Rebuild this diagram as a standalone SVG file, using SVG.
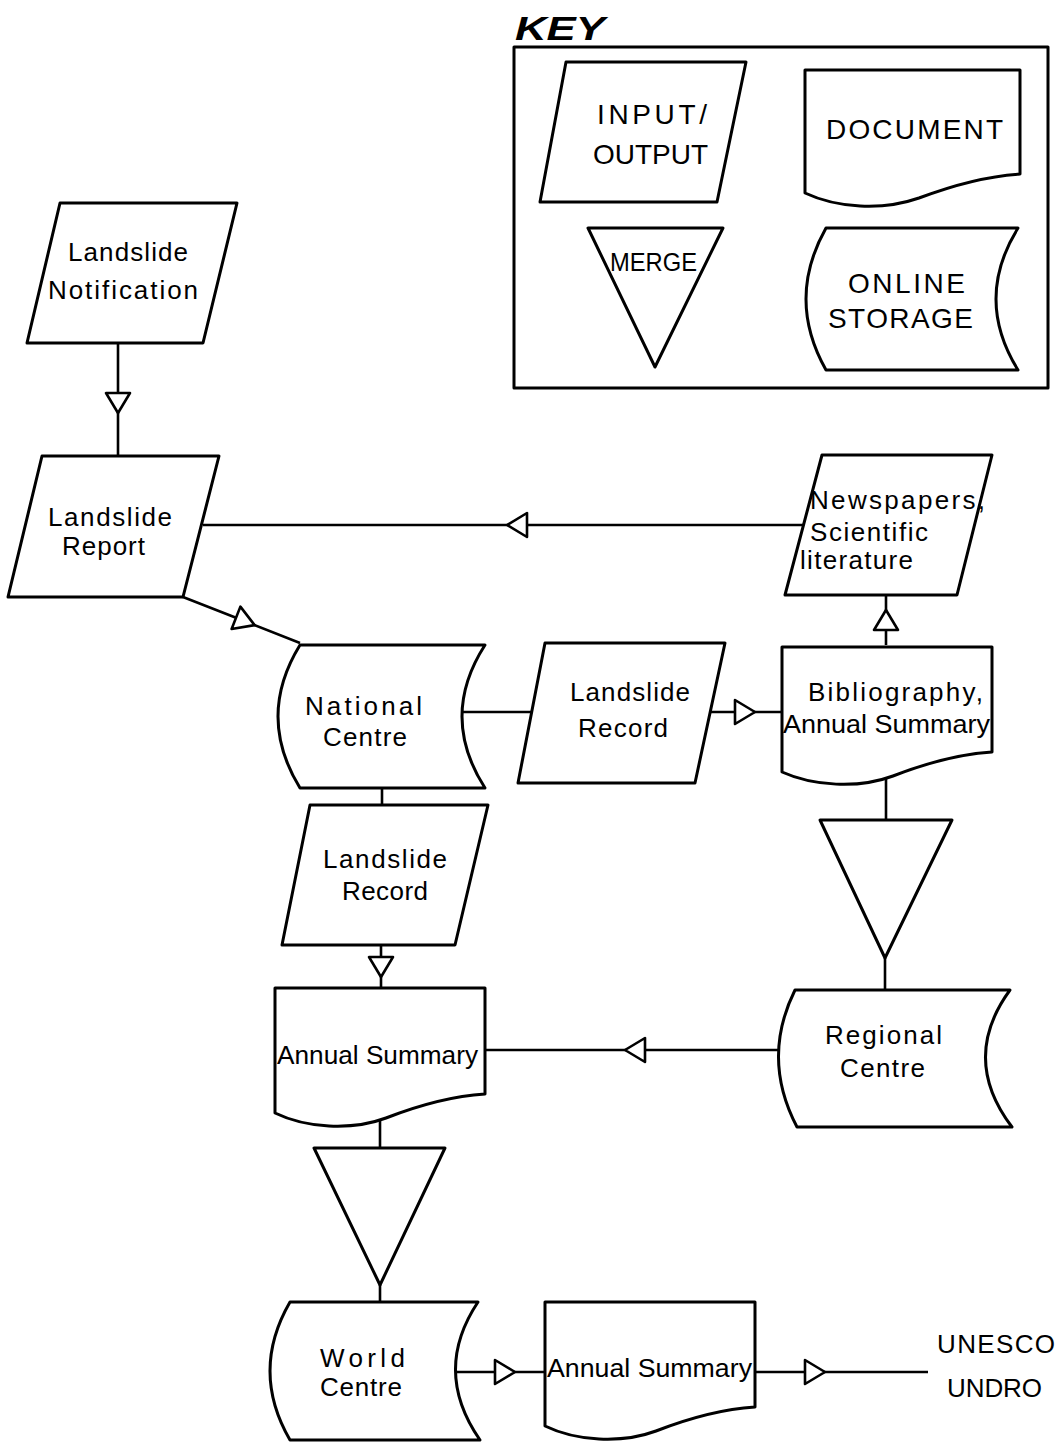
<svg xmlns="http://www.w3.org/2000/svg" width="1063" height="1447" viewBox="0 0 1063 1447">
<style>
.s{fill:#fff;stroke:#000;stroke-width:3;stroke-linejoin:round}
.c{fill:none;stroke:#000;stroke-width:2.6}
text{font-family:"Liberation Sans","DejaVu Sans",sans-serif;font-size:26px;fill:#000}
.k{font-size:28px}
</style>
<defs>
<marker id="ah" markerUnits="userSpaceOnUse" markerWidth="28" markerHeight="30" viewBox="0 0 28 30" refX="2" refY="15" orient="auto" overflow="visible">
<path d="M2,3 L22,15 L2,27 Z" fill="#fff" stroke="#000" stroke-width="2.6" stroke-linejoin="round"/>
</marker>
</defs>
<rect width="1063" height="1447" fill="#fff"/>

<g id="key">
<text x="515" y="40" style="font-size:33px;font-weight:bold;font-style:italic" textLength="90" lengthAdjust="spacingAndGlyphs">KEY</text>
<rect x="514" y="47" width="534" height="341" class="s"/>
<polygon class="s" points="566,62 746,62 717,202 540,202"/>
<text class="k" x="597" y="124" textLength="110" lengthAdjust="spacing">INPUT/</text>
<text class="k" x="593" y="164" textLength="115" lengthAdjust="spacing">OUTPUT</text>
<path class="s" d="M805,70 H1020 V174 C988,176 956,184 919,198 C882,211 837,208 805,193 Z"/>
<text class="k" x="826" y="139" textLength="177" lengthAdjust="spacing">DOCUMENT</text>
<polygon class="s" points="588,228 723,228 655,367"/>
<text x="610" y="271" textLength="87" lengthAdjust="spacingAndGlyphs">MERGE</text>
<path class="s" d="M826,228 H1018 Q974,299 1018,370 H826 Q786,299 826,228 Z"/>
<text class="k" x="848" y="293" textLength="117" lengthAdjust="spacing">ONLINE</text>
<text class="k" x="828" y="328" textLength="145" lengthAdjust="spacing">STORAGE</text>
</g>

<g id="connectors">
<polyline class="c" points="118,343 118,393 118,456" marker-mid="url(#ah)"/>
<polyline class="c" points="805,525 527,525 203,525" marker-mid="url(#ah)"/>
<polyline class="c" points="183,597 236,617.8 300,643" marker-mid="url(#ah)"/>
<polyline class="c" points="886,645 886,630 886,595" marker-mid="url(#ah)"/>
<line class="c" x1="462" y1="712" x2="532" y2="712"/>
<polyline class="c" points="710,712 735,712 782,712" marker-mid="url(#ah)"/>
<line class="c" x1="382" y1="788" x2="382" y2="805"/>
<polyline class="c" points="381,945 381,957 381,988" marker-mid="url(#ah)"/>
<line class="c" x1="886" y1="778" x2="886" y2="820"/>
<line class="c" x1="885" y1="958" x2="885" y2="990"/>
<polyline class="c" points="778,1050 645,1050 485,1050" marker-mid="url(#ah)"/>
<line class="c" x1="380" y1="1120" x2="380" y2="1148"/>
<line class="c" x1="380" y1="1285" x2="380" y2="1302"/>
<polyline class="c" points="455,1372 495,1372 545,1372" marker-mid="url(#ah)"/>
<polyline class="c" points="755,1372 805,1372 928,1372" marker-mid="url(#ah)"/>
</g>

<g id="notification">
<polygon class="s" points="60,203 237,203 203,343 27,343"/>
<text x="68" y="261" textLength="120" lengthAdjust="spacing">Landslide</text>
<text x="48" y="299" textLength="150" lengthAdjust="spacing">Notification</text>
</g>

<g id="report">
<polygon class="s" points="42,456 219,456 183,597 8,597"/>
<text x="48" y="526" textLength="124" lengthAdjust="spacing">Landslide</text>
<text x="62" y="555" textLength="83" lengthAdjust="spacing">Report</text>
</g>

<g id="newspapers">
<polygon class="s" points="822,455 992,455 957,595 785,595"/>
<text x="810" y="509" textLength="175" lengthAdjust="spacing">Newspapers,</text>
<text x="810" y="541" textLength="118" lengthAdjust="spacing">Scientific</text>
<text x="800" y="569" textLength="113" lengthAdjust="spacing">literature</text>
</g>

<g id="national-centre">
<path class="s" d="M300,645 H485 Q439,716.5 485,788 H300 Q256,716.5 300,645 Z"/>
<text x="305" y="715" textLength="117" lengthAdjust="spacing">National</text>
<text x="323" y="746" textLength="84" lengthAdjust="spacing">Centre</text>
</g>

<g id="record-mid">
<polygon class="s" points="545,643 725,643 695,783 518,783"/>
<text x="570" y="701" textLength="120" lengthAdjust="spacing">Landslide</text>
<text x="578" y="737" textLength="90" lengthAdjust="spacing">Record</text>
</g>

<g id="bibliography">
<path class="s" d="M782,647 H992 V752 C960,754 929,762 893,776 C858,789 813,786 782,772 Z"/>
<text x="808" y="701" textLength="175" lengthAdjust="spacing">Bibliography,</text>
<text x="783" y="733" textLength="207" lengthAdjust="spacingAndGlyphs">Annual Summary</text>
</g>

<g id="merge-right">
<polygon class="s" points="820,820 952,820 885,958"/>
</g>

<g id="regional-centre">
<path class="s" d="M795,990 H1010 Q960,1058.5 1012,1127 H797 Q761,1058.5 795,990 Z"/>
<text x="825" y="1044" textLength="117" lengthAdjust="spacing">Regional</text>
<text x="840" y="1077" textLength="85" lengthAdjust="spacing">Centre</text>
</g>

<g id="record-lower">
<polygon class="s" points="310,805 488,805 455,945 282,945"/>
<text x="323" y="868" textLength="124" lengthAdjust="spacing">Landslide</text>
<text x="342" y="900" textLength="86" lengthAdjust="spacing">Record</text>
</g>

<g id="annual-summary-national">
<path class="s" d="M275,988 H485 V1094 C453,1096 422,1104 386,1118 C351,1131 306,1128 275,1113 Z"/>
<text x="277" y="1064" textLength="201" lengthAdjust="spacingAndGlyphs">Annual Summary</text>
</g>

<g id="merge-lower">
<polygon class="s" points="314,1148 445,1148 380,1285"/>
</g>

<g id="world-centre">
<path class="s" d="M290,1302 H478 Q432,1371 480,1440 H290 Q250,1371 290,1302 Z"/>
<text x="320" y="1367" textLength="85" lengthAdjust="spacing">World</text>
<text x="320" y="1396" textLength="82" lengthAdjust="spacing">Centre</text>
</g>

<g id="annual-summary-world">
<path class="s" d="M545,1302 H755 V1407 C723,1409 692,1417 656,1431 C621,1444 576,1441 545,1426 Z"/>
<text x="547" y="1377" textLength="205" lengthAdjust="spacingAndGlyphs">Annual Summary</text>
</g>

<g id="recipients">
<text x="937" y="1353" textLength="118" lengthAdjust="spacing">UNESCO</text>
<text x="947" y="1397" textLength="95" lengthAdjust="spacing">UNDRO</text>
</g>
</svg>
